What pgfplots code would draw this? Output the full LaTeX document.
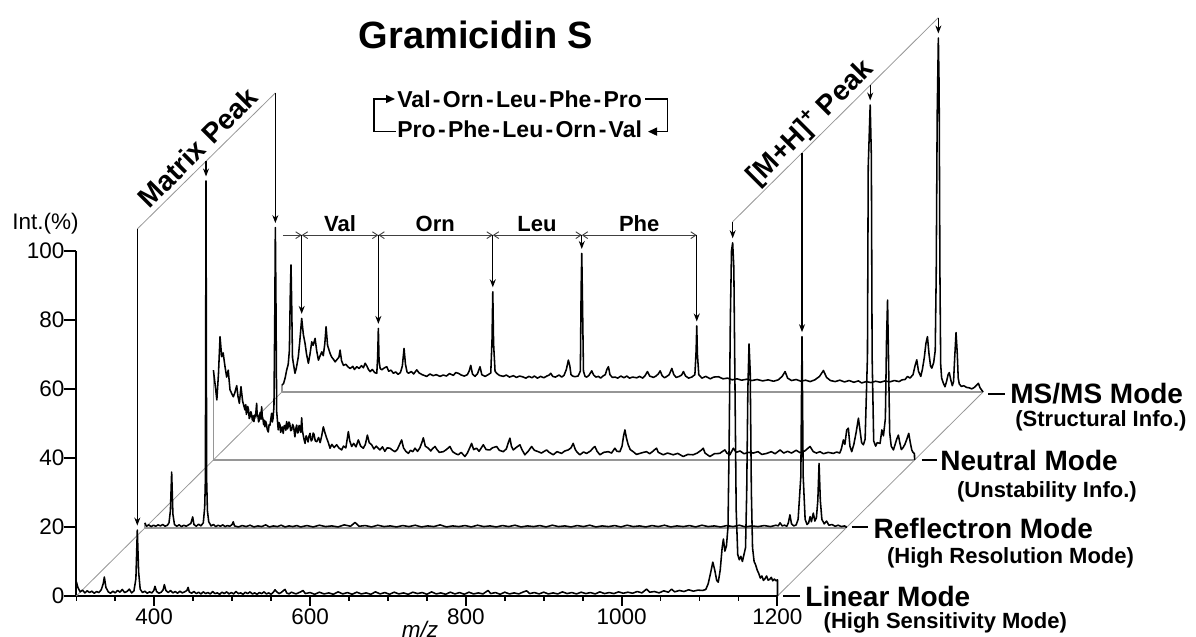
\documentclass[border=0pt]{standalone}
\usepackage{pgfplots}
\pgfplotsset{compat=1.18}
\usepackage{pgfplotstable}
\usepackage{fontspec}
\setmainfont{Liberation Sans}
\usetikzlibrary{arrows.meta}
\definecolor{floorgray}{RGB}{150,150,150}
\newcommand{\fTitle}{\fontsize{19}{22}\selectfont\bfseries}
\newcommand{\fLbl}{\fontsize{14}{16}\selectfont\bfseries}
\newcommand{\fSub}{\fontsize{11}{13}\selectfont\bfseries}
\newcommand{\fTick}{\fontsize{11.25}{13}\selectfont}
\newcommand{\fSeq}{\fontsize{11.5}{13}\selectfont\bfseries}
\newcommand{\fAA}{\fontsize{11}{13}\selectfont\bfseries}
\newcommand{\hy}{\kern0.1em-\kern0.1em}

% Linear mode (baseline 0)
\pgfplotstableread[row sep=\\]{x y\\
300 4.2\\302 2.5\\305 1.2\\308 1.7\\311 0.9\\314 1.5\\317 1.0\\320 1.4\\323 0.8\\326 1.3\\329 1.0\\332 1.8\\334.5 3.5\\336 5.5\\338 2.5\\341 1.2\\344 0.8\\347 1.4\\350 0.9\\353 1.6\\356 1.1\\359 1.9\\362 1.0\\365 1.3\\368 2.0\\371 0.9\\374 1.5\\376.5 5\\378.3 19.1\\380 7\\382 2\\385 1.0\\388 1.4\\391 0.8\\394 1.2\\397 0.9\\399.5 1.6\\401 2.8\\403 1.3\\406 0.8\\409 1.1\\411.5 1.8\\413 3.3\\415 1.6\\418 1.0\\421 1.6\\424 0.9\\427 1.3\\430 0.8\\433 1.4\\436 0.9\\439 1.2\\442 1.6\\443.5 2.5\\445 1.2\\448 0.8\\451 1.3\\454 0.7\\457 1.1\\460 0.6\\463 1.2\\466 0.7\\469 1.0\\472 0.6\\475 1.3\\478 0.7\\481 0.9\\484 0.5\\487 1.1\\490 0.7\\493 1.2\\496 0.6\\499 1.0\\502 0.6\\505 1.3\\508 0.7\\511 0.9\\514 0.5\\517 1.1\\520 0.7\\523 1.2\\526 0.6\\529 0.9\\532 0.5\\535 1.0\\538 0.7\\541 1.2\\544 0.6\\547 0.9\\550 0.5\\553 1.1\\555 1.8\\557 1.3\\560 0.7\\563 1.0\\566 1.6\\568 1.9\\570 0.9\\573 0.6\\576 1.1\\582 0.6\\588 1.2\\591 1.6\\594 0.7\\600 1.0\\606 0.5\\612 1.1\\618 0.6\\624 0.9\\630 0.5\\636 1.2\\642 0.6\\648 1.0\\654 0.5\\660 1.1\\666 0.6\\672 0.9\\678 0.5\\684 1.2\\690 0.6\\696 1.0\\702 0.5\\708 1.1\\714 0.6\\720 0.9\\726 0.5\\732 1.1\\738 0.7\\744 1.0\\750 0.5\\756 1.2\\762 0.6\\768 0.9\\774 0.5\\780 1.1\\786 0.6\\792 1.0\\798 0.5\\804 1.1\\810 0.6\\816 0.9\\822 0.6\\828.5 1.6\\832 0.7\\838 1.0\\844 0.5\\850 1.1\\856 0.6\\862 0.9\\868 0.6\\874 1.2\\878 1.5\\882 0.7\\888 1.0\\894 0.6\\900 1.1\\906 0.6\\912 0.9\\918 0.6\\924 1.2\\930 0.7\\936 1.0\\942 0.6\\948 1.1\\954 0.7\\960 1.0\\966 0.6\\972 1.2\\978 0.7\\984 1.0\\990 0.7\\996 1.2\\1002 0.8\\1008 1.1\\1014 0.8\\1020 1.3\\1026 0.9\\1032 2.0\\1036 1.1\\1042 1.3\\1048 0.9\\1054 1.5\\1060 1.1\\1064 2.0\\1068 1.2\\1074 1.6\\1080 1.3\\1086 1.8\\1092 1.4\\1098 1.7\\1104 1.6\\1108 1.9\\1111 3.5\\1114 6.5\\1117 9.8\\1119.5 7.5\\1122 4.5\\1124 4.0\\1126.5 7.5\\1129 14\\1130.6 16.5\\1132.5 13\\1134.5 14.5\\1136.5 20\\1138 45\\1139.5 80\\1141 100\\1142.5 102.3\\1144 95\\1145.5 60\\1147 25\\1149 12\\1151 10.5\\1153 11.5\\1155 10\\1157 12\\1159 14\\1160.5 30\\1162 60\\1163.5 73\\1165 65\\1166.5 30\\1168 14\\1170 10\\1172 9\\1174 7.5\\1176 6.5\\1178 5.2\\1180 5.8\\1182 4.5\\1184 5.0\\1186 5.8\\1188 4.6\\1190 4.8\\1192 5.4\\1194 4.4\\1196 4.9\\1198 4.4\\1200 4.7\\1200 0\\
}\linear

% Reflectron mode (local m/z, local intensity)
\pgfplotstableread[row sep=\\]{x y\\
300 1.5\\302 0.5\\305 0.9\\308 0.4\\311 0.8\\314 0.5\\317 0.9\\320 0.6\\323 1.0\\326 0.5\\329 0.8\\331 1.5\\332.8 5\\334.4 16.2\\336 4\\338 1.0\\341 0.5\\344 0.9\\347 0.4\\350 0.8\\353 0.5\\356 0.9\\359 1.3\\361.4 3.2\\363 1.0\\366 0.5\\369 1.1\\372 0.6\\375 1.5\\376.8 6\\377.7 14\\378.5 100.5\\379.3 14\\380.3 5\\382 1.8\\385 0.6\\388 1.0\\391 0.4\\394 0.8\\397 0.5\\400 0.9\\403 0.4\\406 0.7\\409 0.5\\412 1.0\\413.5 1.8\\415 0.6\\420 0.3\\425 0.7\\430 0.4\\435 0.8\\440 0.3\\445 0.6\\450 0.4\\455 0.9\\460 0.3\\465 0.6\\470 0.4\\475 0.8\\480 0.3\\485 0.6\\490 0.4\\495 0.7\\500 0.3\\508 0.7\\516 0.3\\524 0.8\\532 0.4\\540 0.6\\548 0.3\\556 0.9\\564 0.5\\569.8 1.6\\575 0.5\\583 0.7\\591 0.3\\599 0.8\\607 0.4\\615 0.6\\623 0.3\\631 0.7\\639 0.4\\647 0.8\\655 0.3\\663 0.6\\671 0.4\\679 0.9\\687 0.3\\695 0.6\\703 0.4\\711 0.7\\719 0.3\\727 0.8\\735 0.4\\743 0.6\\751 0.3\\759 0.7\\767 0.4\\775 0.8\\783 0.3\\791 0.6\\799 0.4\\807 0.7\\815 0.3\\823 0.8\\831 0.4\\839 0.6\\847 0.3\\855 0.7\\863 0.4\\871 0.8\\879 0.3\\887 0.6\\895 0.4\\903 0.7\\911 0.3\\919 0.8\\927 0.4\\935 0.6\\943 0.3\\951 0.7\\959 0.4\\967 0.8\\975 0.3\\983 0.6\\991 0.4\\999 0.7\\1007 0.3\\1015 0.8\\1023 0.4\\1031 0.6\\1039 0.3\\1047 0.7\\1055 0.4\\1063 0.8\\1071 0.3\\1079 0.6\\1087 0.4\\1095 0.7\\1103 0.4\\1110 0.8\\1113 0.6\\1115.3 1.5\\1118 0.6\\1121 0.8\\1124 0.5\\1126 1.5\\1128 3.8\\1130 1.2\\1133 0.6\\1136 0.9\\1138.5 2.5\\1142 15\\1143.5 55.4\\1145 15\\1147.5 2.5\\1150 1.0\\1152 1.5\\1153.9 3.3\\1155.5 1.8\\1158 4.3\\1160 2.0\\1162 3\\1163.8 8\\1165.4 18.7\\1167 8\\1169 2.5\\1172 1.2\\1175 2.0\\1178 0.8\\1182 1.0\\1186 0.5\\1190 0.8\\1194 0.4\\1198 0.6\\1200 0.4\\1200 0\\
}\reflectron

% Neutral mode (local)
\pgfplotstableread[row sep=\\]{x y\\
300 26\\302 22.2\\304.4 17.4\\306.5 25\\308.5 35.7\\310.6 29.9\\312.5 31\\314.9 27\\317 24\\319 26\\321.3 20.3\\324 19.0\\325.6 18.3\\327.5 19.5\\329.9 21.5\\331.5 18.5\\333.3 16.4\\335.4 21.2\\337.5 17.0\\340.5 14.5\\341.5 16.0\\342.3 13.2\\343 13.8\\344 15.5\\345 14.6\\346 12.0\\346.9 12.5\\348 14.0\\349 13.2\\350 11.5\\351 12.8\\352 11.1\\353 13.0\\354 12.5\\355.5 16.4\\356.2 12.8\\357 13.0\\358 11.0\\358.9 11.6\\360 13.8\\360.5 13.5\\361.2 11.8\\361.9 15.4\\362.7 12.6\\363.5 12.0\\364.5 10.2\\365.3 11.5\\366.1 9.6\\367 11.2\\368 10.5\\369 8.9\\370.4 8.1\\371.5 10.2\\372.5 10.0\\373.5 11.5\\374.7 13.5\\375.6 11.0\\376.5 12.0\\377.7 15.4\\378.7 40\\379.5 67.3\\380.3 45\\381.2 14\\383.2 8.7\\384.3 10.8\\385.5 10.1\\386.3 8.0\\387 8.5\\388.2 9.6\\389.6 7.7\\390.7 9.8\\392 10\\393 8.6\\394 11.1\\395 9.0\\396 9.6\\397 11.0\\398 10.5\\399.2 8.5\\400.5 8.7\\401.7 10.3\\403 9.5\\404.6 6.7\\405.7 9.0\\406.9 10.1\\408 7.8\\409 8.0\\410 10.0\\411 9.5\\412.2 8.0\\413.3 12.2\\414.2 8.5\\415 7.5\\416.3 6.0\\417.6 4.8\\419 7.0\\420 6.5\\421.5 5.2\\422.8 7.0\\424 7.7\\425.5 5.5\\427 6.0\\428 7.8\\429 7.5\\430.8 5.5\\432.6 5.3\\435 6.5\\437 5.0\\439 7.0\\441.1 9.6\\443 8.0\\445.4 6.3\\447.5 5.0\\449.7 3.4\\452 4.5\\455 3.6\\458.2 4.4\\461 3.5\\464.6 2.9\\467 4.0\\470 3.5\\473.2 8.2\\475 5.5\\477.5 3.9\\480 4.8\\483 3.8\\486 5.8\\489 4.0\\492.4 3.4\\495 4.5\\497.6 7.2\\500 5.0\\503.1 4.4\\506 3.2\\509 4.0\\513.8 2.9\\517 3.8\\520 2.5\\523 3.5\\526.6 3.4\\530 2.8\\533 2.4\\536 3.0\\539 4.5\\541.6 5.8\\544 3.5\\547 2.5\\550.2 1.9\\553 2.8\\556 2.4\\558.7 3.4\\562 2.5\\565 3.5\\567.5 5.0\\569.4 6.4\\572 4.0\\575.8 3.4\\579 2.6\\581 3.2\\584.4 3.9\\587 3.0\\590 2.2\\595.1 2.4\\599 3.0\\603.6 3.9\\607 2.4\\611 1.8\\614.3 1.5\\618 2.2\\622.8 1.0\\626 2.0\\629 3.5\\631.4 4.8\\634 3.0\\637.8 3.4\\641 2.5\\646.4 4.4\\650 3.0\\654.9 2.9\\658 3.5\\663.5 3.9\\667 2.8\\672 2.4\\676 3.2\\678.5 5.0\\680.6 6.3\\682.5 4.0\\684.9 2.9\\688 3.5\\693.4 4.4\\696 3.0\\699.8 1.5\\704 2.5\\708.4 3.9\\712 2.8\\716.9 2.4\\721 2.0\\727.6 2.9\\731 2.2\\736.2 1.5\\741 2.4\\746.9 1.9\\751 2.6\\755.4 2.9\\759 3.5\\761.8 4.8\\764.5 3.0\\767 2.2\\770.4 1.5\\775 2.3\\779 1.9\\784 2.6\\787.5 3.5\\789.7 3.9\\792.5 2.5\\796.1 1.5\\801 2.2\\806.8 2.4\\811 2.0\\815.3 3.4\\818 2.5\\821.7 2.4\\824.5 4.0\\826.5 7.0\\828.2 8.7\\830 6.5\\832.4 4.4\\835 3.0\\838.8 2.4\\843 1.6\\847.4 1.9\\852 2.2\\856 2.4\\860 1.8\\864 2.5\\866.5 3.0\\868.8 3.4\\871 2.2\\877.3 1.5\\883 2.0\\890.2 1.5\\896 1.9\\903 1.0\\909 1.6\\915.8 1.5\\921 2.0\\926 2.8\\928.7 3.4\\931 2.0\\937.2 1.0\\943 1.8\\950 1.9\\953 2.4\\956.5 2.9\\959 2.0\\962.9 1.5\\967.4 3.4\\971 2.2\\976 2.6\\981 1.8\\987 2.2\\993 2.0\\999 2.4\\1004 1.6\\1010.3 1.9\\1016 2.4\\1021 1.8\\1027.4 2.9\\1032 2.0\\1037 2.5\\1042 2.0\\1048 2.8\\1053 2.1\\1059 2.6\\1065.8 3.9\\1070 2.4\\1074 2.0\\1078.6 2.4\\1083 1.8\\1089 2.2\\1095.7 1.9\\1100 2.3\\1104 2.0\\1106 3.2\\1108.6 5.8\\1110.5 4.5\\1112.9 8.7\\1115 9.2\\1117 4.0\\1119.3 2.4\\1122 4.5\\1125 8.0\\1127.9 12.1\\1130 8.5\\1132 5.0\\1134.3 4.4\\1136.5 6.0\\1139.5 30\\1140.5 85\\1143 102.8\\1144.5 88\\1145.5 30\\1147.5 5.5\\1150 4.0\\1152 5.0\\1155.7 4.8\\1158 8.7\\1160 7.0\\1162.5 12\\1164 35\\1165.3 46.3\\1166.5 30\\1168 8\\1170 4\\1172.8 2.9\\1175 4.5\\1177 6\\1179.2 7.2\\1181 5\\1183 3.0\\1185 3.5\\1187.5 4.5\\1190 6.0\\1192.5 7.7\\1194.5 5\\1196.4 2.9\\1198 2.2\\1199.8 1.8\\1200 0\\
}\neutral

% MS/MS mode (local)
\pgfplotstableread[row sep=\\]{x y\\
300 2.0\\302 2.4\\304 4.0\\306 6.3\\308 8.0\\309.5 12\\310.8 30\\311.6 36.8\\312.5 25\\313.5 10\\314.6 8.3\\316.7 5.4\\318.5 7.0\\321 10.2\\323 15\\325.3 21.3\\327.5 16.5\\329.6 14.1\\331.5 11.0\\333.9 8.3\\336 11\\338.2 14.5\\340 13.5\\342.5 15.5\\344.5 12\\346.8 9.2\\349 10.5\\351.1 11.6\\353 10.5\\355 14\\356.6 18.9\\358.5 13.5\\361.8 11.1\\364 10.0\\366 9.5\\368.2 8.7\\371 9.5\\373 10\\374.6 12.1\\376.5 9.0\\378.9 7.7\\382 8.0\\385 7.2\\387.5 6.8\\391 7.4\\393 6.5\\396 7.3\\399 6.8\\402 7.6\\404.5 7.0\\406.7 8.3\\409 7.5\\411 6.5\\413.1 5.9\\416 6.5\\419 5.6\\421.7 5.4\\422.8 10\\423.7 18.4\\424.6 9\\426 6.8\\428.1 6.4\\431 6.9\\434.5 7.3\\437 6.0\\440 6.3\\443 5.4\\446 5.8\\449 5.1\\452 5.6\\454.5 7.5\\456.7 12.6\\458.5 8.0\\460.5 5.8\\462.3 5.4\\466 5.9\\469 5.2\\473 6.4\\476 5.5\\480 5.0\\485.8 4.5\\490 5.2\\494 4.7\\498 5.0\\502.9 4.5\\507 4.9\\511 4.6\\515 5.3\\520 4.8\\523 5.6\\526.4 5.4\\530 4.9\\534 4.6\\538 5.0\\540.5 6.2\\542.3 7.7\\544.5 5.2\\547.8 4.5\\551 5.3\\554.2 7.3\\556.5 5.0\\560.7 4.5\\564 4.9\\568 5.5\\569.6 15\\570.6 29\\571.6 14\\573.5 6\\575.6 5.4\\579 4.8\\584.2 4.5\\588 4.9\\592 4.3\\597 4.7\\601 4.2\\605 4.6\\608.6 4.4\\613 4.0\\617 4.5\\621 4.1\\624 4.6\\627.9 4.0\\632 4.5\\636 4.1\\640 4.6\\643 4.9\\645 5.4\\647.5 4.5\\651 4.3\\655.7 4.9\\659 4.3\\662 4.8\\665 6.5\\667.6 9.2\\669.5 7.5\\671 5.0\\673.1 4.6\\676 4.4\\680 4.6\\683 6\\684 30\\684.8 40.1\\685.6 28\\687 6\\689 4.5\\691.2 4.3\\694 4.8\\697.6 6.1\\700 4.9\\703 4.3\\706.2 4.5\\709 4.0\\712 4.6\\715 5.0\\717 6.5\\719 7.3\\721 5.0\\724 4.2\\727.6 4.3\\731 4.0\\735 4.6\\739 4.1\\742.6 4.6\\746 4.0\\750 4.3\\755.5 4.1\\759 4.5\\763 4.0\\766 4.7\\769.1 5.9\\772 4.6\\776.8 4.2\\780 4.6\\783 5.2\\785.4 6.1\\788 4.7\\791 4.1\\794 4.5\\797 5.0\\800.4 6.8\\803 5.0\\806 4.2\\810 4.5\\813 4.9\\815.3 5.9\\818 4.6\\822 4.0\\826 4.3\\830 5\\831.6 12\\832.4 19.1\\833.2 11\\835 5\\839 4.0\\844 4.5\\849.7 3.8\\854 4.3\\860.4 4.4\\866 3.8\\872 4.0\\878 3.5\\884 3.8\\890 3.4\\897 3.7\\903 3.3\\910 3.6\\917 3.2\\924 3.5\\931 3.1\\937 3.5\\942 4.5\\945.8 5.9\\949 4.0\\954 3.3\\960 3.6\\966 3.1\\972 3.4\\978 3.0\\984 3.5\\990 4.5\\995 6.2\\999 4.2\\1004 3.3\\1010 3.0\\1016 3.4\\1022 2.9\\1028 3.3\\1034 2.8\\1040 3.2\\1044 2.6\\1050 3.0\\1056 2.7\\1062 3.1\\1068 2.8\\1074 3.2\\1080 2.9\\1086 3.3\\1092 3.0\\1096 3.5\\1099.8 3.6\\1103 4.5\\1106 4.0\\1110 5.0\\1112.5 7.5\\1114.8 9.3\\1117 6.0\\1119.9 4.5\\1122 6.5\\1124.5 10\\1126.5 14\\1128.5 16\\1130.5 11\\1132.5 7.5\\1134.1 6.9\\1136.5 8.5\\1138.5 12\\1139.8 35\\1141 80\\1142.5 102.5\\1143.5 88\\1144.5 35\\1145.5 8\\1146.7 4.0\\1149 2.5\\1151 1.5\\1153 3.0\\1155 5\\1156.5 5.6\\1158.5 3.5\\1160.4 1.8\\1162 3\\1163.5 10\\1165.2 17.2\\1166.8 11\\1168 4\\1169.4 2.3\\1172 1.6\\1175 1.8\\1178.9 1.3\\1182 1.2\\1185.3 0.9\\1188 1.2\\1191 1.8\\1193.9 2.5\\1196 1.2\\1198.2 0.5\\1200 0\\
}\msms

\tikzset{
  trace/.style={black, line width=0.78pt, line join=round},
  floor/.style={floorgray, line width=0.6pt},
  diag/.style={floorgray, line width=0.4pt},
  varrow/.style={-{Stealth[length=4pt,width=3pt]}, line width=0.6pt, black},
  dimarr/.style={{Straight Barb[length=2.6pt,width=3.4pt]}-{Straight Barb[length=2.6pt,width=3.4pt]}, line width=0.45pt, black!75},
  dimarrR/.style={-{Straight Barb[length=2.6pt,width=3.4pt]}, line width=0.45pt, black!75},
}

\begin{document}
\begin{tikzpicture}
\begin{axis}[
  at={(38.15pt,-298pt)}, anchor=south west,
  scale only axis, width=350.6pt, height=172.65pt,
  xmin=300, xmax=1200, ymin=0, ymax=100,
  axis lines=left, axis line style={-, line width=1pt},
  clip=false,
  xtick={400,600,800,1000,1200},
  minor xtick={300,350,450,500,550,650,700,750,850,900,950,1050,1100,1150},
  ytick={0,20,40,60,80,100},
  tick align=outside,
  major tick length=4.75pt, minor tick length=2.35pt,
  ytick style={/pgfplots/major tick length=6.35pt},
  tick style={line width=1pt, black},
  minor tick style={line width=0.8pt, black},
  ticklabel style={font=\fTick},
  xticklabel style={inner sep=1.5pt},
  yticklabel style={inner sep=1pt},
  /pgf/number format/assume math mode=true,
  /pgf/number format/1000 sep={},
]
% floors and frame
\addplot[floor] coordinates {(388,19.7) (1288,19.7)};
\addplot[floor] coordinates {(476,39.4) (1376,39.4)};
\addplot[floor] coordinates {(564,59.1) (1464,59.1)};
\addplot[diag] coordinates {(300,0) (564,59.1)};
\addplot[diag] coordinates {(1200,0) (1464,59.1)};
\addplot[floor] coordinates {(476,39.4) (476,65.4)};
\addplot[floor] coordinates {(564,59.1) (564,61.1)};
\addplot[floor] coordinates {(388,19.7) (388,21.2)};
% traces
\addplot[trace] table[x=x, y=y] {\linear};
\addplot[trace] table[x expr=\thisrow{x}+88, y expr=\thisrow{y}+19.7] {\reflectron};
\addplot[trace] table[x expr=\thisrow{x}+176, y expr=\thisrow{y}+39.4] {\neutral};
\addplot[trace] table[x expr=\thisrow{x}+264, y expr=\thisrow{y}+59.1] {\msms};
% matrix peak bracket
\draw[diag] (axis cs:378.3,106.3) -- (axis cs:555.5,145.7);
\draw[line width=0.6pt] (axis cs:378.3,106.3) -- (axis cs:378.3,60);
\draw[varrow] (axis cs:378.3,60) -- (axis cs:378.3,20.4);
\draw[varrow] (axis cs:466.5,125.9) -- (axis cs:466.5,121.5);
\draw[varrow] (axis cs:555.5,145.7) -- (axis cs:555.5,108);
% [M+H]+ bracket
\draw[diag] (axis cs:1142.5,108.4) -- (axis cs:1406.5,167.5);
\draw[varrow] (axis cs:1142.5,108.4) -- (axis cs:1142.5,103.6);
\draw[varrow] (axis cs:1231.5,128.3) -- (axis cs:1231.5,76.4);
\draw[varrow] (axis cs:1319,147.9) -- (axis cs:1319,143.5);
\draw[varrow] (axis cs:1406.5,167.5) -- (axis cs:1406.5,162.9);
% MS/MS sequence ladder
\draw[dimarrR] (axis cs:565.3,104.5) -- (axis cs:589.3,104.5);
\draw[dimarr] (axis cs:589.3,104.5) -- (axis cs:687.7,104.5);
\draw[dimarr] (axis cs:687.7,104.5) -- (axis cs:834.6,104.5);
\draw[dimarr] (axis cs:834.6,104.5) -- (axis cs:948.8,104.5);
\draw[dimarr] (axis cs:948.8,104.5) -- (axis cs:1096.4,104.5);
\draw[varrow] (axis cs:589.3,104.5) -- (axis cs:589.3,81.7);
\draw[varrow] (axis cs:687.7,104.5) -- (axis cs:687.7,78.8);
\draw[varrow] (axis cs:834.6,104.5) -- (axis cs:834.6,89.4);
\draw[varrow] (axis cs:948.8,104.5) -- (axis cs:948.8,100.5);
\draw[varrow] (axis cs:1096.4,104.5) -- (axis cs:1096.4,79.5);
\end{axis}

\begin{scope}[x=0.5pt, y=-0.5pt]
% titles and labels
\node[font=\fTitle, anchor=base, inner sep=0] at (476,48) {Gramicidin S};
\node[font=\fTick, anchor=base west, inner sep=0] at (12,229) {Int.(\%)};
\node[font=\fTick\itshape, anchor=base, inner sep=0] at (420,637) {m/z};
% sequence
\node[font=\fSeq, anchor=base west, inner sep=0] at (397,107) {Val\hy Orn\hy Leu\hy Phe\hy Pro};
\node[font=\fSeq, anchor=base west, inner sep=0] at (397,137.5) {Pro\hy Phe\hy Leu\hy Orn\hy Val};
\draw[{Triangle[length=4.5pt,width=4pt]}-, line width=0.75pt] (395,99) -- (374,99) -- (374,131.6) -- (396,131.6);
\draw[-{Triangle[length=4.5pt,width=4pt]}, line width=0.75pt] (645,99) -- (667.5,99) -- (667.5,131.6) -- (648,131.6);
% amino-acid labels
\node[font=\fAA, anchor=base, inner sep=0] at (340,231) {Val};
\node[font=\fAA, anchor=base, inner sep=0] at (435.3,231) {Orn};
\node[font=\fAA, anchor=base, inner sep=0] at (537,231) {Leu};
\node[font=\fAA, anchor=base, inner sep=0] at (639.2,231) {Phe};
% rotated labels
\node[font=\fLbl, rotate=45, anchor=base, inner sep=0] at (204.6,154.5) {Matrix Peak};
\node[font=\fLbl, rotate=45, anchor=base, inner sep=0] at (816,128.8) {[M+H]\textsuperscript{+} Peak};
% mode labels
\draw[line width=1pt] (783,596) -- (800,596);
\node[font=\fLbl, anchor=base west, inner sep=0] at (805,606.7) {Linear Mode};
\node[font=\fSub, anchor=base west, inner sep=0] at (823.3,628.5) {(High Sensitivity Mode)};
\draw[line width=1pt] (851.7,526.7) -- (868.3,526.7);
\node[font=\fLbl, anchor=base west, inner sep=0] at (873.3,538) {Reflectron Mode};
\node[font=\fSub, anchor=base west, inner sep=0] at (886.7,563) {(High Resolution Mode)};
\draw[line width=1pt] (921.7,460) -- (936.7,460);
\node[font=\fLbl, anchor=base west, inner sep=0] at (940,470) {Neutral Mode};
\node[font=\fSub, anchor=base west, inner sep=0] at (956.7,497) {(Unstability Info.)};
\draw[line width=1pt] (988,394) -- (1005,394);
\node[font=\fLbl, anchor=base west, inner sep=0] at (1010,403.3) {MS/MS Mode};
\node[font=\fSub, anchor=base west, inner sep=0] at (1015,426.7) {(Structural Info.)};
\end{scope}
\pgfresetboundingbox
\path[use as bounding box] (0,0) rectangle (598pt,-318.5pt);
\end{tikzpicture}
\end{document}
